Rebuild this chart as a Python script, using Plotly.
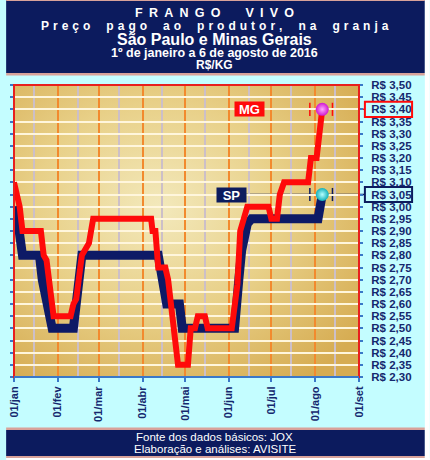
import base64
import plotly.graph_objects as go

# Preço do frango vivo (R$/kg)
mg_dates = ["2016-01-01", "2016-01-05", "2016-01-07", "2016-01-20", "2016-01-22", "2016-01-24",
            "2016-01-29", "2016-02-10", "2016-02-12", "2016-02-14", "2016-02-18", "2016-02-23",
            "2016-02-26", "2016-04-07", "2016-04-08", "2016-04-10", "2016-04-12", "2016-04-17",
            "2016-04-19", "2016-04-21", "2016-04-22", "2016-04-26", "2016-05-03", "2016-05-05",
            "2016-05-08", "2016-05-10", "2016-05-15", "2016-05-17", "2016-06-03", "2016-06-07",
            "2016-06-09", "2016-06-12", "2016-06-14", "2016-06-29", "2016-07-01", "2016-07-05",
            "2016-07-07", "2016-07-10", "2016-07-27", "2016-07-29", "2016-08-02", "2016-08-06"]
mg_values = [3.10, 3.00, 2.90, 2.90, 2.80, 2.78,
             2.55, 2.55, 2.60, 2.62, 2.80, 2.85,
             2.95, 2.95, 2.90, 2.90, 2.75, 2.75,
             2.70, 2.60, 2.50, 2.35, 2.35, 2.50,
             2.50, 2.55, 2.55, 2.50, 2.50, 2.68,
             2.90, 2.95, 3.00, 3.00, 2.95, 2.95,
             3.05, 3.10, 3.10, 3.20, 3.20, 3.40]

sp_dates = ["2016-01-01", "2016-01-03", "2016-01-07", "2016-01-19", "2016-01-21", "2016-01-25",
            "2016-01-28", "2016-02-12", "2016-02-14", "2016-02-16", "2016-02-18", "2016-04-12",
            "2016-04-14", "2016-04-15", "2016-04-18", "2016-04-27", "2016-04-29", "2016-06-05",
            "2016-06-08", "2016-06-10", "2016-06-14", "2016-06-17", "2016-08-03", "2016-08-06"]
sp_values = [3.00, 2.97, 2.80, 2.80, 2.70, 2.60,
             2.50, 2.50, 2.60, 2.70, 2.80, 2.80,
             2.75, 2.70, 2.60, 2.60, 2.50, 2.50,
             2.70, 2.82, 2.93, 2.95, 2.95, 3.05]

month_ticks = ["2016-01-01", "2016-02-01", "2016-03-01", "2016-04-01", "2016-05-01",
               "2016-06-01", "2016-07-01", "2016-08-01", "2016-09-01"]
month_labels = ["01/jan", "01/fev", "01/mar", "01/abr", "01/mai", "01/jun", "01/jul", "01/ago", "01/set"]
mid_ticks = ["2016-01-15", "2016-02-15", "2016-03-15", "2016-04-15", "2016-05-15",
             "2016-06-15", "2016-07-15", "2016-08-15"]

y_ticks = [3.50, 3.45, 3.40, 3.35, 3.30, 3.25, 3.20, 3.15, 3.10, 3.05, 3.00, 2.95, 2.90,
           2.85, 2.80, 2.75, 2.70, 2.65, 2.60, 2.55, 2.50, 2.45, 2.40, 2.35, 2.30]
y_labels = ["R$ 3,50", "R$ 3,45", "R$ 3,40", "R$ 3,35", "R$ 3,30", "R$ 3,25", "R$ 3,20",
            "R$ 3,15", "R$ 3,10", "R$ 3,05", "R$ 3,00", "R$ 2,95", "R$ 2,90", "R$ 2,85",
            "R$ 2,80", "R$ 2,75", "R$ 2,70", "R$ 2,65", "R$ 2,60", "R$ 2,55", "R$ 2,50",
            "R$ 2,45", "R$ 2,40", "R$ 2,35", "R$ 2,30"]

FONT = "Liberation Sans, Arial, sans-serif"
NAVY = "#0C1B5E"
NAVY_LINE = "#0D1A66"
NAVY_TXT = "#15286E"
RED = "#FF0A0A"
CYAN = "#C4FDFF"
PINK = "#D8A29A"
BLUE = "#3A78C8"

# plot area in pixels
L, R, T, B = 8, 359, 85, 377


def px(x):
    return (x - L) / (R - L)


def py(y):
    return (B - y) / (B - T)


def spaced(text, gap, word_gap):
    return word_gap.join(gap.join(w) for w in text.split(" "))


fig = go.Figure()

fig.add_trace(go.Scatter(x=sp_dates, y=sp_values, mode="lines", name="SP",
                         line=dict(color=NAVY_LINE, width=9), hoverinfo="skip"))
fig.add_trace(go.Scatter(x=mg_dates, y=mg_values, mode="lines", name="MG",
                         line=dict(color=RED, width=6), hoverinfo="skip"))
fig.add_trace(go.Scatter(x=[sp_dates[-1]], y=[sp_values[-1]], mode="markers",
                         marker=dict(size=13, color="#10B0BA", line=dict(width=0),
                                     gradient=dict(type="radial", color="#B8FFFF"))))
fig.add_trace(go.Scatter(x=[mg_dates[-1]], y=[mg_values[-1]], mode="markers",
                         marker=dict(size=13, color="#D018D0", line=dict(width=0),
                                     gradient=dict(type="radial", color="#FFA8FF"))))

# golden background of the plot area
svg = ("<svg xmlns='http://www.w3.org/2000/svg' width='200' height='200'>"
       "<defs><radialGradient id='g' cx='0.42' cy='0.42' r='0.72'>"
       "<stop offset='0' stop-color='#F3E9BC'/><stop offset='0.5' stop-color='#E8D088'/>"
       "<stop offset='1' stop-color='#D6AC52'/></radialGradient></defs>"
       "<rect width='200' height='200' fill='url(#g)'/></svg>")
fig.add_layout_image(dict(source="data:image/svg+xml;base64," + base64.b64encode(svg.encode()).decode(),
                          xref="paper", yref="paper", x=0, y=1, sizex=1, sizey=1,
                          sizing="stretch", xanchor="left", yanchor="top", layer="below"))

shapes = [
    # header / footer bands
    dict(type="rect", x0=px(0), x1=px(426), y0=py(0), y1=py(73), fillcolor=NAVY, line_width=0),
    dict(type="rect", x0=px(0), x1=px(426), y0=py(73), y1=py(75.5), fillcolor=PINK, line_width=0),
    dict(type="rect", x0=px(0), x1=px(426), y0=py(0), y1=py(1), fillcolor=PINK, line_width=0),
    dict(type="rect", x0=px(0), x1=px(426), y0=py(427.5), y1=py(430), fillcolor=PINK, line_width=0),
    dict(type="rect", x0=px(0), x1=px(426), y0=py(430), y1=py(456), fillcolor=NAVY, line_width=0),
    dict(type="rect", x0=px(0), x1=px(426), y0=py(456), y1=py(458), fillcolor=PINK, line_width=0),
    dict(type="rect", x0=px(0), x1=px(431), y0=py(458), y1=py(461), fillcolor="white", line_width=0),
    dict(type="rect", x0=px(426), x1=px(431), y0=py(-1), y1=py(461), fillcolor="white", line_width=0),
    # plot frame
    dict(type="rect", xref="paper", yref="paper", x0=0, x1=1, y0=0, y1=1,
         line=dict(color="#E8201E", width=2), layer="above"),
    dict(type="line", xref="paper", yref="paper", x0=0, x1=1, y0=0, y1=0,
         line=dict(color=BLUE, width=2), layer="above"),
]

# MG / SP leader lines with brackets around the last point
for val, col, x_start in [(mg_values[-1], RED, 262), (sp_values[-1], NAVY, 244)]:
    shapes.append(dict(type="line", xref="paper", yref="y", x0=px(x_start), x1=px(365),
                       y0=val, y1=val, line=dict(color=col, width=1.5), layer="between"))
    for xb in (309, 332):
        shapes.append(dict(type="line", xref="paper", yref="y", x0=px(xb), x1=px(xb),
                           y0=val - 0.027, y1=val + 0.027, line=dict(color=col, width=1.5),
                           layer="between"))
    shapes.append(dict(type="rect", xref="paper", yref="y", x0=px(365), x1=px(413),
                       y0=val - 0.031, y1=val + 0.031, line=dict(color=col, width=2), layer="above"))

for s in shapes:
    s.setdefault("xref", "paper")
    s.setdefault("yref", "paper")
    s.setdefault("layer", "below")
fig.update_layout(shapes=shapes)

white = "white"
head = [
    (spaced("FRANGO VIVO", "\u2002", "\u2002\u2002\u2002\u2002"), 13, 12.5),
    (spaced("Preço pago ao produtor, na granja", "\u2004", "\u2004\u2004\u2004\u2004"), 26.5, 12),
    ("São Paulo e Minas Gerais", 39, 16),
    ("1º de janeiro a 6 de agosto de 2016", 52.5, 12.5),
    ("R$/KG", 64.5, 12),
]
for txt, yy, size in head:
    fig.add_annotation(text=txt, xref="paper", yref="paper", x=px(212), y=py(yy),
                       xanchor="center", yanchor="middle", showarrow=False,
                       font=dict(family=FONT, size=size, color=white, weight="bold"))

for txt, yy in [("Fonte dos dados básicos: JOX", 437.5), ("Elaboração e análises: AVISITE", 449)]:
    fig.add_annotation(text=txt, xref="paper", yref="paper", x=px(212), y=py(yy),
                       xanchor="center", yanchor="middle", showarrow=False,
                       font=dict(family=FONT, size=11.5, color=white))

fig.add_annotation(text="MG", xref="paper", yref="y", x=px(247.5), y=mg_values[-1],
                   xanchor="center", yanchor="middle",
                   showarrow=False, bgcolor=RED, width=27, height=12, borderpad=1,
                   font=dict(family=FONT, size=13, color=white, weight="bold"))
fig.add_annotation(text="SP", xref="paper", yref="y", x=px(229.5), y=sp_values[-1],
                   xanchor="center", yanchor="middle",
                   showarrow=False, bgcolor=NAVY, width=27, height=12, borderpad=1,
                   font=dict(family=FONT, size=13, color=white, weight="bold"))

fig.update_layout(
    width=430, height=460,
    margin=dict(l=L, r=430 - R, t=T, b=460 - B),
    paper_bgcolor=CYAN,
    plot_bgcolor="#E2C470",
    showlegend=False,
    xaxis=dict(
        type="date", range=["2016-01-01", "2016-09-01"],
        tickvals=month_ticks, ticktext=month_labels, tickangle=-90,
        tickfont=dict(family=FONT, size=11, color=NAVY_TXT, weight="bold"),
        ticks="outside", ticklen=4, tickwidth=2, tickcolor=BLUE,
        showgrid=True, gridcolor="#F28A2E", gridwidth=1.5,
        minor=dict(tickvals=mid_ticks, showgrid=True, gridcolor="#CCBFC8", gridwidth=1.5),
        showline=False, zeroline=False,
    ),
    yaxis=dict(
        range=[2.30, 3.50], side="right",
        tickvals=y_ticks, ticktext=y_labels,
        tickfont=dict(family=FONT, size=11.5, color=NAVY_TXT, weight="bold"),
        ticks="outside", ticklen=3, tickwidth=1.5, tickcolor=BLUE, mirror="ticks",
        ticklabelstandoff=6,
        showgrid=True, gridcolor="#FFF6DC", gridwidth=1.5,
        showline=False, zeroline=False,
    ),
)

# the page body has a default margin; drop it so the figure sits at the top-left corner
fig.write_html("out.html", config={"displayModeBar": False},
               post_script="document.body.style.margin='0';")
